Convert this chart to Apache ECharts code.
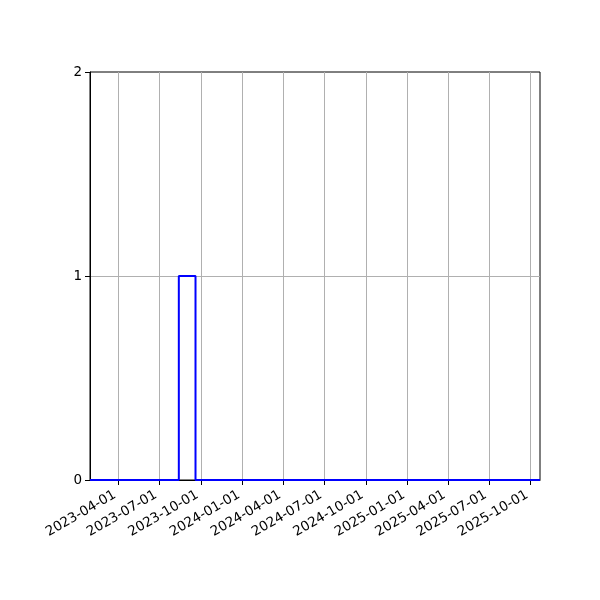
<!DOCTYPE html>
<html><head><meta charset="utf-8">
<script src="https://cdn.jsdelivr.net/npm/echarts@6/dist/echarts.min.js"></script>
<style>html,body{margin:0;padding:0;background:#fff}#c{width:600px;height:600px}</style>
</head><body><div id="c"></div>
<script>
const binEdges = ['2023-01-28','2023-08-13','2023-09-19','2025-10-22'];
const counts = [0, 1, 0];
const xTickLabels = ['2023-04-01','2023-07-01','2023-10-01','2024-01-01','2024-04-01','2024-07-01','2024-10-01','2025-01-01','2025-04-01','2025-07-01','2025-10-01'];
const yTicks = [0, 1, 2];

const ts = s => Date.parse(s + 'T00:00:00Z');
const data = binEdges.map((e, i) => [ts(e), i < counts.length ? counts[i] : counts[counts.length - 1]]);
const tickVals = xTickLabels.map(ts);
const pad = n => String(n).padStart(2, '0');
const fmt = v => { const d = new Date(v); return d.getUTCFullYear() + '-' + pad(d.getUTCMonth() + 1) + '-' + pad(d.getUTCDate()); };

const chart = echarts.init(document.getElementById('c'));
chart.setOption({
  animation: false,
  textStyle: { fontFamily: 'DejaVu Sans' },
  grid: { left: 90, right: 60, top: 72, bottom: 120, show: true, borderColor: '#000', borderWidth: 1, backgroundColor: 'transparent' },
  xAxis: {
    type: 'value',
    min: ts(binEdges[0]), max: ts(binEdges[binEdges.length - 1]),
    axisLine: { show: true, onZero: false, lineStyle: { color: '#000', width: 1 } },
    axisTick: { show: true, length: 5, lineStyle: { color: '#000' }, customValues: tickVals },
    axisLabel: { rotate: 30, color: '#000', fontSize: 13.5, margin: 12, padding: [0, 4, 0, 0], customValues: tickVals, formatter: v => fmt(v) },
    splitLine: { show: false }
  },
  yAxis: {
    type: 'value', min: yTicks[0], max: yTicks[yTicks.length - 1], interval: 1,
    axisLine: { show: true, lineStyle: { color: '#000', width: 1 } },
    axisTick: { show: true, length: 5, lineStyle: { color: '#000' } },
    axisLabel: { color: '#000', fontSize: 13.5, margin: 8 },
    splitLine: { show: true, showMinLine: false, showMaxLine: false, lineStyle: { color: '#b0b0b0', width: 1 } }
  },
  series: [
    {
      type: 'line', data: [], z: 0, silent: true,
      markLine: {
        silent: true, symbol: 'none', label: { show: false }, animation: false,
        lineStyle: { color: '#b0b0b0', width: 1, type: 'solid' },
        data: tickVals.map(v => ({ xAxis: v }))
      }
    },
    {
      type: 'line', data: data, step: 'end', showSymbol: false, z: 5,
      lineStyle: { color: '#0000ff', width: 2 }
    }
  ]
});
</script></body></html>
